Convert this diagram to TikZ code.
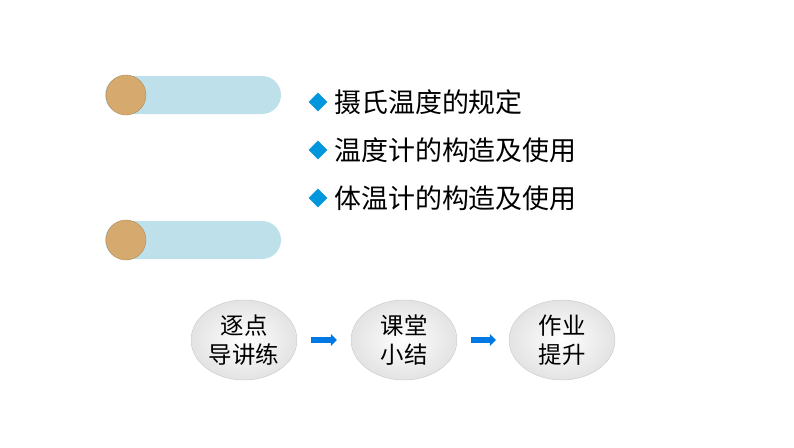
\documentclass[tikz,border=0pt]{standalone}
\usepackage{fontspec}
\newfontfamily\cjk{Noto Sans CJK SC}
\usetikzlibrary{shapes.geometric,arrows.meta}
\definecolor{barblue}{RGB}{189,224,234}
\definecolor{dotorange}{RGB}{214,170,110}
\definecolor{tipblue}{RGB}{0,150,220}
\begin{document}
\begin{tikzpicture}[x=0.03cm,y=-0.03cm]
\tikzstyle{bar}=[fill=barblue, draw=none, rounded corners=19*0.03cm]
\tikzstyle{dot}=[circle, fill=dotorange, draw=dotorange!80!black, line width=0.3pt, minimum size=40*0.03cm, inner sep=0pt]
\tikzstyle{item}=[anchor=west, inner sep=0pt, font=\cjk\fontsize{23}{26}\selectfont]
\tikzstyle{tip}=[diamond, fill=tipblue, inner sep=0pt, minimum size=19*0.03cm]
\tikzstyle{bubble}=[ellipse, draw=gray!40, inner color=white, outer color=gray!22, inner sep=0pt, minimum width=106*0.03cm, minimum height=80*0.03cm, align=center, font=\cjk\fontsize{20}{25}\selectfont]
\tikzstyle{flow}=[-{Triangle[length=5pt,width=10pt]}, line width=5pt, color=tipblue!80!blue]
\useasboundingbox (0,0) rectangle (794,447);
% bars on the left
\fill[bar] (105,76) rectangle (281,114);
\node[dot] (D1) at (126,95) {};
\fill[bar] (105,221) rectangle (281,259);
\node[dot] (D2) at (126,240) {};
% list
\node[tip] (T1) at (318,102) {};
\node[item] (L1) at (334,102) {摄氏温度的规定};
\node[tip] (T2) at (318,150) {};
\node[item] (L2) at (334,150) {温度计的构造及使用};
\node[tip] (T3) at (318,198) {};
\node[item] (L3) at (334,198) {体温计的构造及使用};
% flow
\node[bubble] (A) at (244,340) {逐点\\导讲练};
\node[bubble] (B) at (404,340) {课堂\\小结};
\node[bubble] (C) at (562,340) {作业\\提升};
\draw[flow] ([xshift=14*0.03cm]A.east) -- ([xshift=-14*0.03cm]B.west);
\draw[flow] ([xshift=14*0.03cm]B.east) -- ([xshift=-13*0.03cm]C.west);
\end{tikzpicture}
\end{document}
